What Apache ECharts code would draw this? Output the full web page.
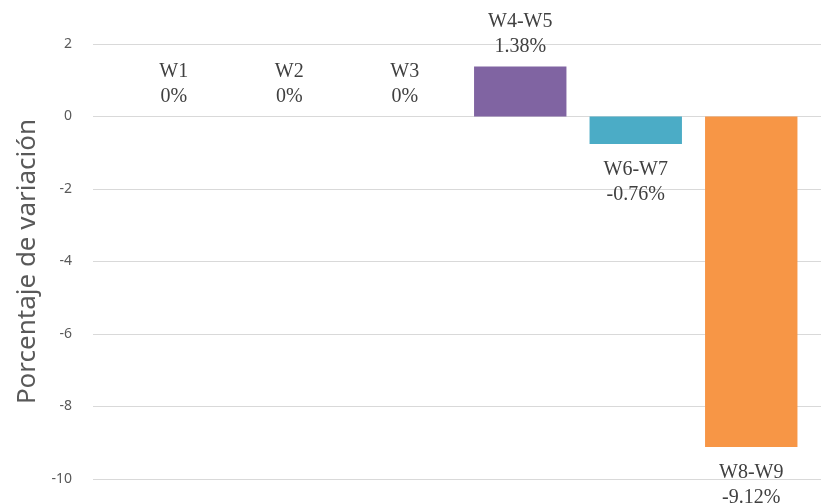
<!DOCTYPE html>
<html>
<head>
<meta charset="utf-8">
<script src="https://cdn.jsdelivr.net/npm/echarts@6/dist/echarts.min.js"></script>
<style>
  html, body { margin: 0; padding: 0; background: #fff; }
  #chart { width: 821px; height: 503px; }
</style>
</head>
<body>
<div id="chart"></div>
<script>
// semanas y variación (%)
var categories = ['W1', 'W2', 'W3', 'W4-W5', 'W6-W7', 'W8-W9'];
var values = [0, 0, 0, 1.38, -0.76, -9.12];
var colors = ['#8064A2', '#8064A2', '#8064A2', '#8064A2', '#4BACC6', '#F79646'];
var yTicks = [-10, -8, -6, -4, -2, 0, 2];

var chart = echarts.init(document.getElementById('chart'));

var data = values.map(function (v, i) {
  return {
    value: v,
    itemStyle: { color: colors[i] },
    label: v < 0 ? { position: 'bottom', distance: 13 } : { position: 'top', distance: 7 }
  };
});

var option = {
  animation: false,
  grid: [
    // grid de las barras
    { left: 116, right: 12, top: 44, bottom: 24 },
    // grid para las líneas y etiquetas del eje
    { left: 93, right: 0, top: 44, bottom: 24 }
  ],
  xAxis: [
    { type: 'category', gridIndex: 0, data: categories, show: false },
    { type: 'category', gridIndex: 1, data: categories, show: false }
  ],
  yAxis: [
    { type: 'value', gridIndex: 0, min: yTicks[0], max: yTicks[yTicks.length - 1], interval: 2, show: false },
    {
      type: 'value', gridIndex: 1, min: yTicks[0], max: yTicks[yTicks.length - 1], interval: 2,
      name: 'Porcentaje de variación',
      nameLocation: 'middle',
      nameGap: 47,
      nameTextStyle: { fontFamily: 'Noto Sans', fontSize: 26, color: '#595959' },
      axisLine: { show: false },
      axisTick: { show: false },
      axisLabel: { fontFamily: 'Noto Sans', fontSize: 14, color: '#595959', margin: 21 },
      splitLine: { lineStyle: { color: '#d9d9d9', width: 1 } }
    }
  ],
  series: [
    {
      type: 'bar',
      xAxisIndex: 0,
      yAxisIndex: 0,
      data: data,
      barCategoryGap: '20%',
      label: {
        show: true,
        formatter: '{b}\n{c}%',
        fontFamily: 'Liberation Serif',
        fontSize: 20,
        lineHeight: 25,
        color: '#404040'
      }
    }
  ]
};

chart.setOption(option);
</script>
</body>
</html>
